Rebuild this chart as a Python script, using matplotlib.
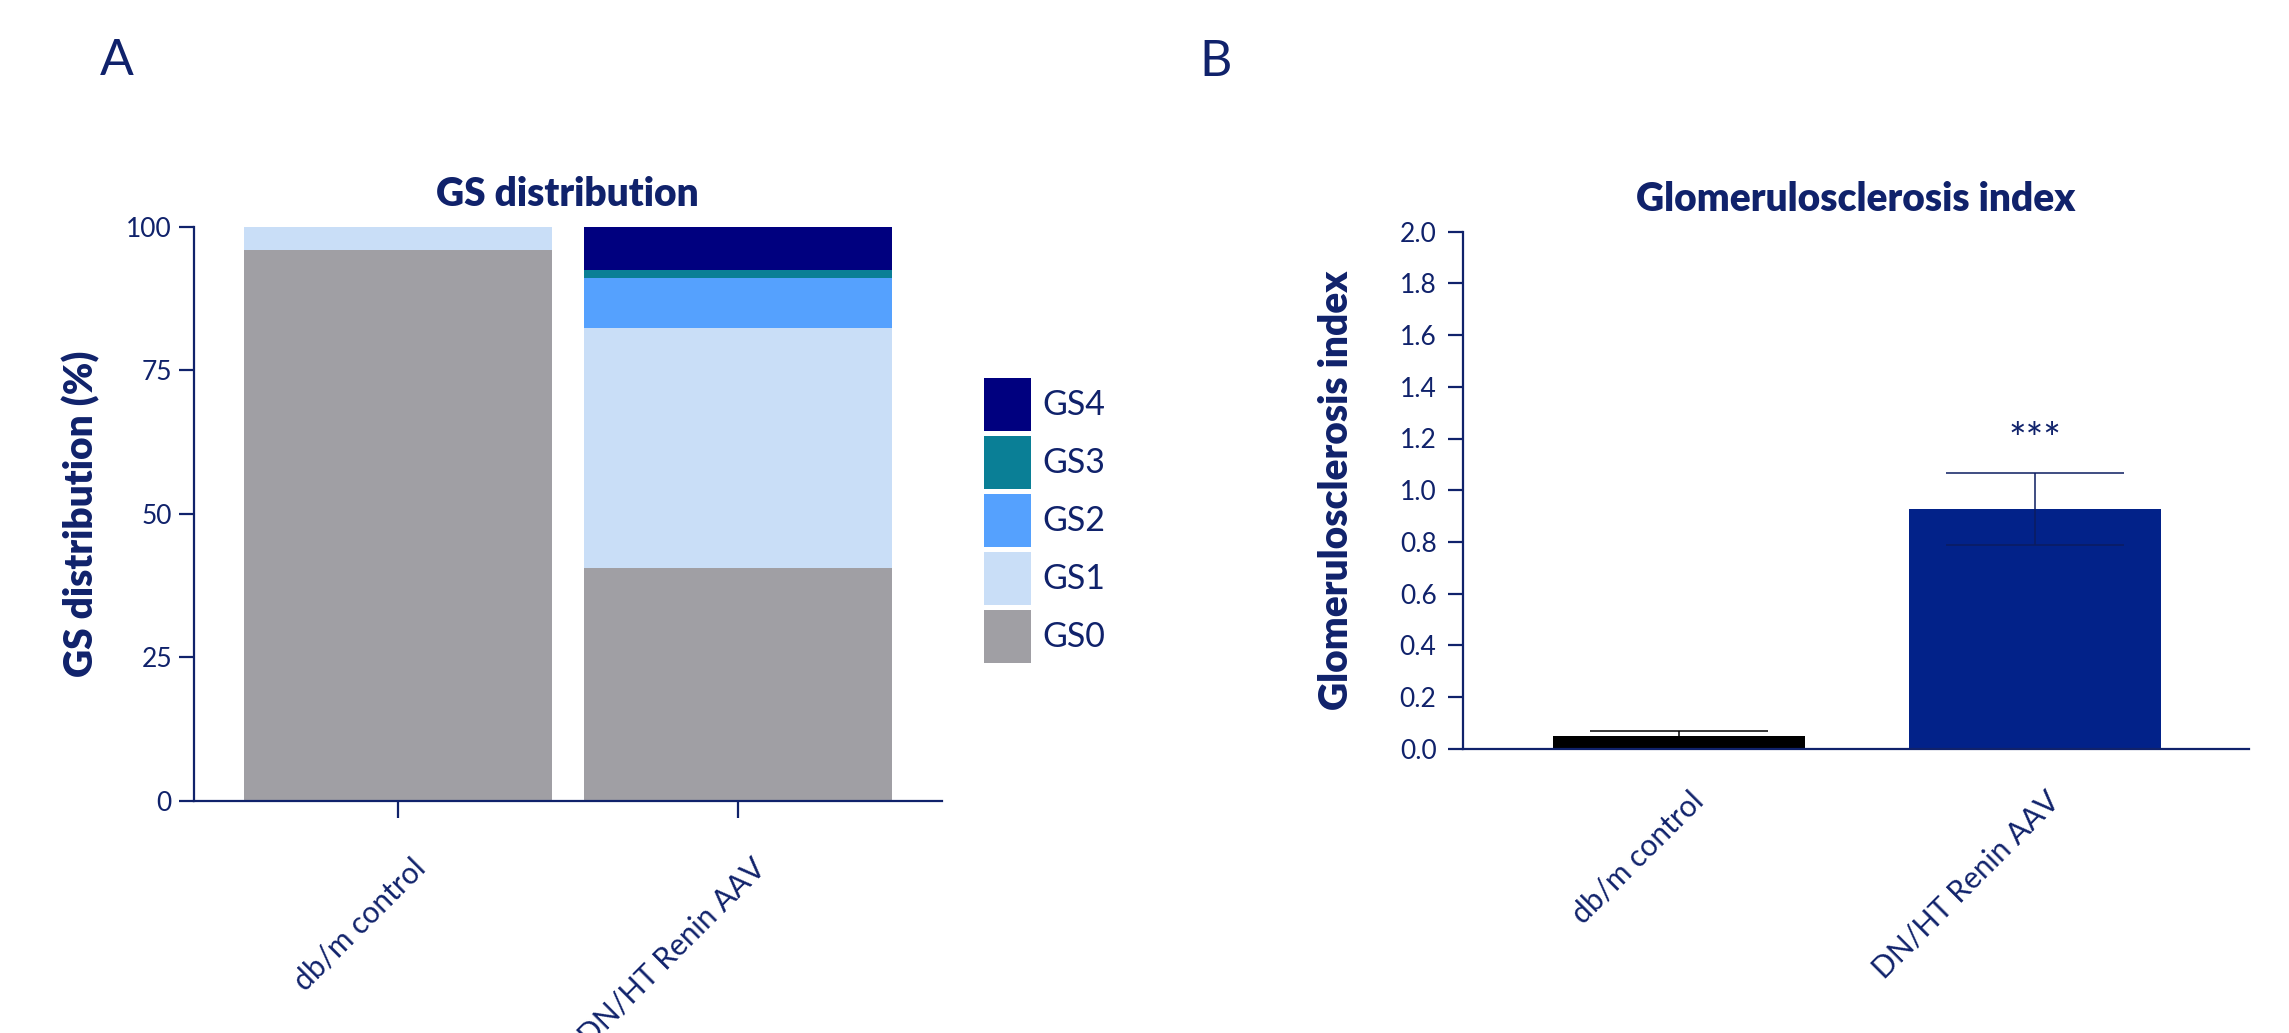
import numpy as np
import matplotlib
matplotlib.use("Agg")
import matplotlib.pyplot as plt
import matplotlib.transforms as mtransforms

plt.rcParams['font.family'] = ['Lato', 'DejaVu Sans']

# data
groups = ['db/m control', 'DN/HT Renin AAV']
grades = ['GS0', 'GS1', 'GS2', 'GS3', 'GS4']
gs_dist = {
    'GS0': [96.0, 40.5],
    'GS1': [4.0, 41.9],
    'GS2': [0.0, 8.6],
    'GS3': [0.0, 1.5],
    'GS4': [0.0, 7.5],
}
gs_index_mean = [0.049, 0.927]
gs_index_sem = [0.019, 0.14]
gs_yticks = [0, 25, 50, 75, 100]
index_yticks = np.arange(0, 2.01, 0.2)

grade_colors = {'GS0': '#a09fa4', 'GS1': '#c9def7', 'GS2': '#55a1fe',
                'GS3': '#0a7f96', 'GS4': '#00007f'}
bar_colors = ['#000000', '#022289']
err_colors = ['#000000', '#0c1c60']
navy = '#10226b'

W, H = 2289, 1033
fig = plt.figure(figsize=(W / 100, H / 100), dpi=100)

def px_axes(x0, y0, x1, y1):
    return fig.add_axes([x0 / W, 1 - y1 / H, (x1 - x0) / W, (y1 - y0) / H])

def style(ax):
    for s in ['top', 'right']:
        ax.spines[s].set_visible(False)
    for s in ['left', 'bottom']:
        ax.spines[s].set_color(navy)
        ax.spines[s].set_linewidth(1.6)
    ax.tick_params(axis='y', colors=navy, labelsize=19, length=10.5, width=1.6, pad=5)
    ax.tick_params(axis='x', colors=navy, labelsize=21.5, width=1.6)

def rotated_labels(ax, pad_px, dx_px):
    ax.set_xticks(range(len(groups)))
    ax.set_xticklabels(groups, rotation=45, ha='right', va='top',
                       rotation_mode='anchor')
    off = mtransforms.ScaledTranslation(dx_px / 100, -pad_px / 100, fig.dpi_scale_trans)
    for lab in ax.get_xticklabels():
        lab.set_transform(lab.get_transform() + off)

# panel A
axA = px_axes(193.5, 226.7, 942, 801)
x = np.arange(len(groups))
bottom = np.zeros(len(groups))
handles = {}
for g in grades:
    vals = np.array(gs_dist[g])
    handles[g] = axA.bar(x, vals, width=0.906, bottom=bottom, color=grade_colors[g],
                         label=g, linewidth=0)
    bottom += vals
axA.set_xlim(-0.6, 1.6)
axA.set_ylim(0, 100)
axA.set_yticks(gs_yticks)
style(axA)
axA.tick_params(axis='x', length=12, pad=0)
rotated_labels(axA, 36, 13)
axA.set_title('GS distribution', fontsize=28, fontweight='heavy', color=navy, pad=15)
axA.set_ylabel('GS distribution (%)', fontsize=28, fontweight='heavy', color=navy)
axA.yaxis.set_label_coords(-0.125, 0.5)

leg = fig.legend([handles[g] for g in grades[::-1]], grades[::-1],
                 loc='upper left', bbox_to_anchor=(984 / W, 1 - 378 / H),
                 frameon=False, fontsize=24.5, handlelength=1.38, handleheight=2.02,
                 labelspacing=0.147, handletextpad=0.35, borderpad=0, borderaxespad=0)
for t in leg.get_texts():
    t.set_color(navy)

# panel B
axB = px_axes(1463, 231.7, 2249, 748.7)
axB.bar(x, gs_index_mean, width=0.708, color=bar_colors, linewidth=0)
for i in range(len(groups)):
    axB.errorbar(x[i], gs_index_mean[i], yerr=gs_index_sem[i], fmt='none',
                 ecolor=err_colors[i], elinewidth=1.1, capsize=64, capthick=1.1)
axB.text(x[1], 1.19, '***', ha='center', va='center', fontsize=30, color=navy)
axB.set_xlim(-0.607, 1.601)
axB.set_ylim(0, 2.0)
axB.set_yticks(index_yticks)
axB.set_yticklabels([f'{v:.1f}' for v in index_yticks])
style(axB)
axB.tick_params(axis='y', pad=8.5)
axB.tick_params(axis='x', length=0, pad=0)
rotated_labels(axB, 38, 10)
axB.set_title('Glomerulosclerosis index', fontsize=28, fontweight='heavy', color=navy, pad=15)
axB.set_ylabel('Glomerulosclerosis index', fontsize=28, fontweight='heavy', color=navy)
axB.yaxis.set_label_coords(-0.137, 0.5)

# panel letters
fig.text(116.5 / W, 1 - 61 / H, 'A', fontsize=36, fontweight='normal', color=navy,
         ha='center', va='center')
fig.text(1216 / W, 1 - 62 / H, 'B', fontsize=36, fontweight='normal', color=navy,
         ha='center', va='center')

fig.savefig('out.png', dpi=100)
